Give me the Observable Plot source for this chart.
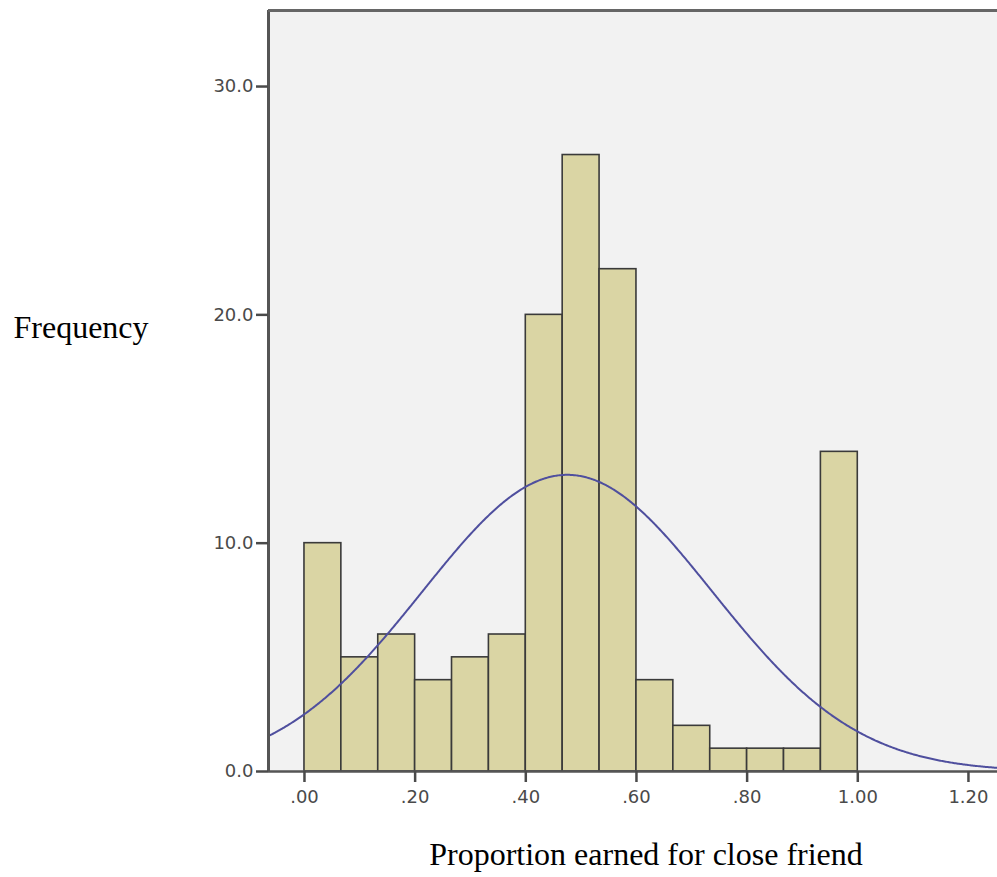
<!DOCTYPE html>
<html>
<head>
<meta charset="utf-8">
<script src="https://cdn.jsdelivr.net/npm/d3@7"></script>
<script src="https://cdn.jsdelivr.net/npm/@observablehq/plot@0.6"></script>
<style>
  html, body { margin: 0; padding: 0; background: #ffffff; }
  #chart { width: 997px; height: 877px; }
</style>
</head>
<body>
<div id="chart"></div>
<script>
// ---- data ----
const binCount = 15;
const binLow = 0;
const binHigh = 1;
const frequencies = [10, 5, 6, 4, 5, 6, 20, 27, 22, 4, 2, 1, 1, 1, 14];
const fitMean = 0.475;
const fitSd = 0.262;
const xTicks = [0, 0.2, 0.4, 0.6, 0.8, 1.0, 1.2];
const yTicks = [0, 10, 20, 30];
const xDomain = [-0.065, 1.2525];
const yDomain = [0, 33.33];
const xTitle = "Proportion earned for close friend";
const yTitle = "Frequency";

// ---- derived tables ----
const binWidth = (binHigh - binLow) / binCount;
const bars = frequencies.map((f, i) => ({
  x1: binLow + i * binWidth,
  x2: binLow + (i + 1) * binWidth,
  y: f
}));
const n = d3.sum(frequencies);
const curve = d3.range(xDomain[0], xDomain[1] + 0.002, 0.002).map(x => ({
  x,
  y: n * binWidth * Math.exp(-0.5 * ((x - fitMean) / fitSd) ** 2) / (fitSd * Math.sqrt(2 * Math.PI))
}));

const fmtX = v => {
  const s = d3.format(".2f")(v);
  return s.startsWith("0") ? s.slice(1) : s;
};
const fmtY = d3.format(".1f");

const chart = Plot.plot({
  width: 997,
  height: 877,
  marginLeft: 268,
  marginRight: 0,
  marginTop: 10,
  marginBottom: 106,
  style: { fontFamily: "DejaVu Sans", fontSize: "18px", background: "#ffffff" },
  x: { domain: xDomain },
  y: { domain: yDomain },
  marks: [
    Plot.frame({ fill: "#f2f2f2", stroke: null }),
    Plot.rectY(bars, { x1: "x1", x2: "x2", y: "y", fill: "#dad5a4", stroke: "#3a3a3a", strokeWidth: 1.6 }),
    Plot.line(curve, { x: "x", y: "y", stroke: "#4f4f9e", strokeWidth: 2, curve: "linear" }),
    Plot.ruleX([xDomain[0]], { stroke: "#555555", strokeWidth: 3 }),
    Plot.ruleY([yDomain[1]], { stroke: "#666666", strokeWidth: 3 }),
    Plot.ruleY([0], { stroke: "#555555", strokeWidth: 2.5 }),
    Plot.axisX({ ticks: xTicks, tickFormat: fmtX, tickSize: 11, tickPadding: 8, color: "#4a4a4a", strokeWidth: 2.5, label: null }),
    Plot.axisY({ ticks: yTicks, tickFormat: fmtY, tickSize: 12, tickPadding: 3, color: "#4a4a4a", strokeWidth: 2.5, label: null }),
    Plot.text([yTitle], { frameAnchor: "left", text: d => d, textAnchor: "start", dx: -255, dy: -63, fontFamily: "Liberation Serif", fontSize: 32, fill: "#000" }),
    Plot.text([xTitle], { frameAnchor: "bottom", text: d => d, dx: 13, dy: 93, fontFamily: "Liberation Serif", fontSize: 32, fill: "#000" })
  ]
});
document.getElementById("chart").appendChild(chart);
</script>
</body>
</html>
